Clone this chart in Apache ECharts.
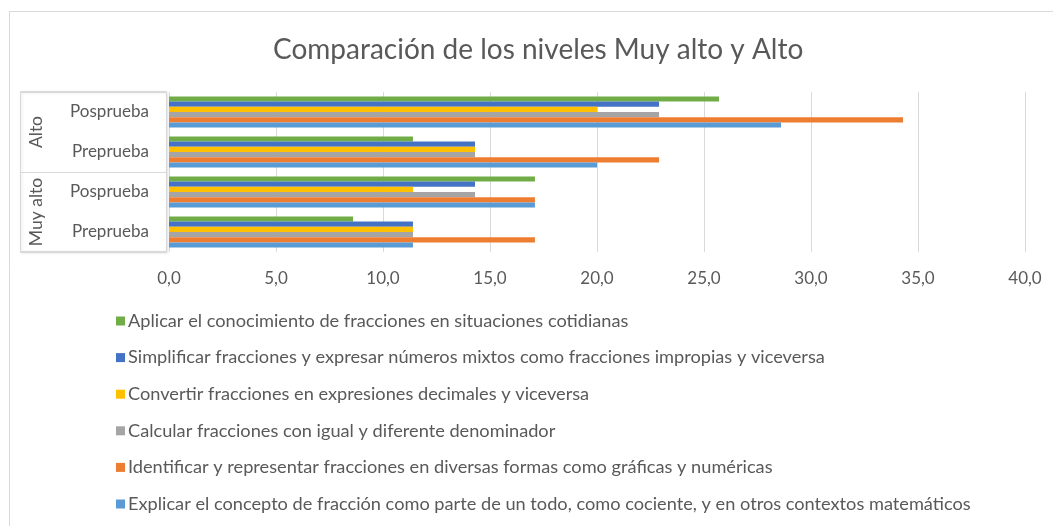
<!DOCTYPE html>
<html>
<head>
<meta charset="utf-8">
<script src="https://cdn.jsdelivr.net/npm/echarts@6/dist/echarts.min.js"></script>
<style>
html,body{margin:0;padding:0;background:#fff;}
#chart{width:1053px;height:526px;}
</style>
</head>
<body>
<div id="chart"></div>
<script>
var levels = ['Muy alto', 'Alto'];
var phases = ['Preprueba', 'Posprueba'];
var seriesNames = [
  'Aplicar el conocimiento de fracciones en situaciones cotidianas',
  'Simplificar fracciones y expresar números mixtos como fracciones impropias y viceversa',
  'Convertir fracciones en expresiones decimales y viceversa',
  'Calcular fracciones con igual y diferente denominador',
  'Identificar y representar fracciones en diversas formas como gráficas y numéricas',
  'Explicar el concepto de fracción como parte de un todo, como cociente, y en otros contextos matemáticos'
];
var seriesColors = ['#70AD47', '#4472C4', '#FFC000', '#A5A5A5', '#ED7D31', '#5B9BD5'];
// values per category: Muy alto Preprueba, Muy alto Posprueba, Alto Preprueba, Alto Posprueba
var aplicar      = [8.6, 17.1, 11.4, 25.7];
var simplificar  = [11.4, 14.3, 14.3, 22.9];
var convertir    = [11.4, 11.4, 14.3, 20.0];
var calcular     = [11.4, 14.3, 14.3, 22.9];
var identificar  = [17.1, 17.1, 22.9, 34.3];
var explicar     = [11.4, 17.1, 20.0, 28.6];
var xTicks = [0, 5, 10, 15, 20, 25, 30, 35, 40];

var seriesData = [aplicar, simplificar, convertir, calcular, identificar, explicar];
var catKeys = [];
levels.forEach(function (lv) { phases.forEach(function (ph) { catKeys.push(lv + '|' + ph); }); });

var chart = echarts.init(document.getElementById('chart'), null, {renderer: 'canvas'});
var font = 'Lato';
var textColor = '#595959';
var series = seriesNames.map(function (n, i) {
  return {
    name: n, type: 'bar', data: seriesData[i], yAxisIndex: 0,
    barGap: '0%', barCategoryGap: '22%',
    itemStyle: {color: seriesColors[i]},
    emphasis: {disabled: true}
  };
});
chart.setOption({
  animation: false,
  textStyle: {fontFamily: font},
  title: {
    text: 'Comparación de los niveles Muy alto y Alto',
    left: 268, top: 31,
    textStyle: {fontFamily: font, fontSize: 28, fontWeight: 'normal', color: textColor}
  },
  legend: {
    orient: 'vertical', left: 111, top: 307, height: 260, padding: 5,
    itemWidth: 9, itemHeight: 9, itemGap: 18.6,
    icon: 'rect',
    data: seriesNames.slice(),
    textStyle: {fontFamily: font, fontSize: 18.2, color: textColor, lineHeight: 18, padding: [0, 0, 0, -2]}
  },
  grid: {left: 169, right: 28, top: 92, bottom: 274, containLabel: false},
  xAxis: {
    type: 'value', min: xTicks[0], max: xTicks[xTicks.length - 1], interval: 5,
    axisLine: {show: false}, axisTick: {show: false},
    splitLine: {lineStyle: {color: '#d9d9d9', width: 1}},
    axisLabel: {
      fontFamily: font, fontSize: 17, color: textColor, margin: 18,
      formatter: function (v) { return v.toFixed(1).replace('.', ','); }
    }
  },
  yAxis: [{
    type: 'category', data: catKeys, position: 'left',
    axisLine: {show: false}, axisTick: {show: false},
    axisLabel: {
      fontFamily: font, fontSize: 17, color: textColor, margin: 20, interval: 0,
      formatter: function (v) { return v.split('|')[1]; }
    }
  }, {
    type: 'category', data: levels, position: 'left', offset: 2,
    axisLine: {show: false},
    axisTick: {show: true, interval: 0, length: 147, lineStyle: {color: '#d9d9d9'}},
    axisLabel: {
      fontFamily: font, fontSize: 17.5, color: textColor, rotate: 90, margin: 122,
      interval: 0, hideOverlap: false
    }
  }],
  graphic: [{
    type: 'rect', z: -10, silent: true,
    shape: {x: 9.5, y: 11.5, width: 1070, height: 540},
    style: {fill: null, stroke: '#d9d9d9', lineWidth: 1}
  }, {
    type: 'rect', z: -10, silent: true,
    shape: {x: 20.5, y: 91.5, width: 146, height: 160},
    style: {fill: '#fff', stroke: '#d9d9d9', lineWidth: 1,
      shadowColor: 'rgba(0,0,0,0.12)', shadowBlur: 3, shadowOffsetX: 1, shadowOffsetY: 1}
  }],
  series: series
});
</script>
</body>
</html>
